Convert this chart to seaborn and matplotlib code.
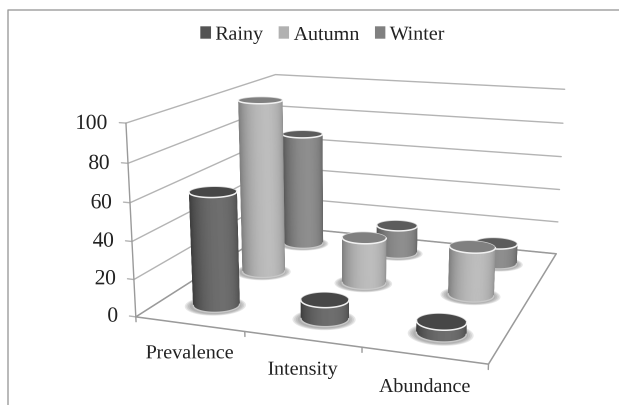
"""3D cylinder column chart of seasonal parasite indices, grey version."""

import matplotlib
matplotlib.use("Agg")
import matplotlib.pyplot as plt
from matplotlib.lines import Line2D
from matplotlib.patches import Patch
from mpl_toolkits.mplot3d import proj3d
from mpl_toolkits.mplot3d.art3d import Poly3DCollection
import numpy as np
import seaborn as sns

categories = ["Prevalence", "Intensity", "Abundance"]
seasons = ["Rainy", "Autumn", "Winter"]
rainy = [61, 10, 6]
autumn = [99, 26, 27]
winter = [69, 17, 12]
y_ticks = [0, 20, 40, 60, 80, 100]

W, H = 619, 405
FONT = "Liberation Serif"
GRID = "#b4b4b4"
EDGE = "#9a9a9a"
RX, RY = 0.2, 0.19

# (edge, middle, top cap) shades per season
SHADES = {
    "Rainy": ("#3f3f3f", "#6e6e6e", "#474747"),
    "Autumn": ("#808080", "#bdbdbd", "#808080"),
    "Winter": ("#565656", "#8e8e8e", "#5c5c5c"),
}
LEGEND_COLORS = {"Rainy": "#555555", "Autumn": "#b2b2b2", "Winter": "#808080"}

# camera fit: box corners in chart units -> where they sit in the image
CAM_WORLD = np.array([
    (0, 0, 0), (1, 0, 0), (2, 0, 0), (3, 0, 0), (3, 3, 0), (0, 3, 0),
    (0, 0, 100), (0, 3, 100), (3, 3, 100), (0, 0, 50), (3, 3, 50),
], dtype=float)
CAM_IMAGE = np.array([
    (136, 317), (245, 333), (362, 347), (488, 364), (556, 254), (278, 226),
    (126, 123), (275, 75), (565, 90), (131, 221), (560.5, 172),
], dtype=float)


def fit_camera(ax):
    """Solve the projection matrix that puts the box where the image has it."""
    ax.apply_aspect()
    view = ax.transData.inverted().transform(
        np.c_[CAM_IMAGE[:, 0], H - CAM_IMAGE[:, 1]]
    )
    rows, rhs = [], []
    for (x, y, z), (u, v) in zip(CAM_WORLD, view):
        rows.append([x, y, z, 1, 0, 0, 0, 0, -u * x, -u * y, -u * z])
        rows.append([0, 0, 0, 0, x, y, z, 1, -v * x, -v * y, -v * z])
        rhs += [u, v]
    p = np.linalg.lstsq(np.array(rows), np.array(rhs), rcond=None)[0]
    return np.array([p[:4], p[4:8], [0, 0, 0, -1], [p[8], p[9], p[10], 1]])


def label_at(ax, camera, x, y, z, text, **kwargs):
    """Plain 2D text at the spot a chart position projects to."""
    vx, vy, _ = proj3d.proj_transform(x, y, z, camera)
    ax.text2D(vx, vy, text, transform=ax.transData, va="center",
              color="#222222", zorder=50, **kwargs)


def draw_cylinder(ax, cx, cy, height, season, order, eye):
    # only the half that faces the camera gets a side wall
    front = np.arctan2((eye[1] - cy) / RY, (eye[0] - cx) / RX)
    phi = np.linspace(-np.pi / 2, np.pi / 2, 49)
    near = front + phi
    nx, ny = cx + RX * np.cos(near), cy + RY * np.sin(near)
    theta = np.linspace(0, 2 * np.pi, 73)
    xs, ys = cx + RX * np.cos(theta), cy + RY * np.sin(theta)

    # floor shadow, a few stacked soft ellipses
    for scale in [1.32, 1.25, 1.18, 1.1]:
        ring = list(zip(cx + scale * RX * np.cos(theta),
                        cy + scale * RY * np.sin(theta) - 0.02,
                        np.zeros_like(theta)))
        ax.add_collection3d(Poly3DCollection(
            [ring], facecolor=(0.35, 0.35, 0.35, 0.14), edgecolor="none",
            zorder=order - 0.5,
        ))

    edge, mid, top = SHADES[season]
    ramp = np.array(sns.blend_palette([edge, mid], 101))
    light = np.clip(np.cos(phi - 0.2), 0, 1) ** 1.2
    colors = ramp[(light * 100).astype(int)]
    facecolors = np.tile(np.c_[colors, np.ones(len(phi))], (2, 1, 1))
    ax.plot_surface(
        np.tile(nx, (2, 1)), np.tile(ny, (2, 1)),
        np.array([np.zeros_like(phi), np.full_like(phi, height)]),
        rstride=1, cstride=1, facecolors=facecolors, shade=False,
        linewidth=0.3, zorder=order,
    )
    cap = list(zip(xs, ys, np.full_like(theta, height)))
    ax.add_collection3d(Poly3DCollection(
        [cap], facecolor=top, edgecolor="none", zorder=order + 0.1,
    ))

    # bright rims on the near half
    ax.plot(xs, ys, np.full_like(theta, height), color="#d0d0d0", lw=0.5,
            zorder=order + 0.15)
    ax.plot(nx, ny, np.full_like(phi, height), color="#f2f2f2", lw=1.1,
            zorder=order + 0.2)
    ax.plot(nx, ny, np.zeros_like(phi), color="#c8c8c8", lw=1.0,
            zorder=order + 0.2)


sns.set_theme(style="white")
plt.rcParams["font.family"] = [FONT, "DejaVu Serif"]

fig = plt.figure(figsize=(W / 100, H / 100), dpi=100, facecolor="white")
# a 3D axes is always square, so let it overhang the figure vertically
over = W / H
ax = fig.add_axes([0, (1 - over) / 2, 1, over], projection="3d",
                  computed_zorder=False)
ax.set_axis_off()
ax.set_xticks([])
ax.set_yticks([])
ax.set_zticks([])
ax.patch.set_alpha(0)
camera = fit_camera(ax)
ax.get_proj = lambda: camera
eye = np.linalg.solve(camera[[0, 1, 3]][:, :3], -camera[[0, 1, 3]][:, 3])

# walls
for tick in y_ticks:
    ax.plot([0, 0, 3], [0, 3, 3], [tick] * 3, color=GRID, lw=1.0, zorder=1)
    ax.plot([-0.06, 0], [0, 0], [tick, tick], color=GRID, lw=1.0, zorder=1)
    label_at(ax, camera, -0.17, 0, tick - 0.9, str(tick), ha="right",
             fontsize=15.5)
ax.plot([0, 0], [0, 0], [0, 100], color=EDGE, lw=1.0, zorder=1)

# floor
ax.plot([0, 3, 3, 0, 0], [0, 0, 3, 3, 0], [0] * 5, color=EDGE, lw=1.1, zorder=2)
for pos in range(4):
    ax.plot([pos, pos], [0, 0], [0, -2.6], color=EDGE, lw=1.0, zorder=2)

# back row first so the near columns cover it
order = 10
for season, values, row in [("Winter", winter, 2.5), ("Autumn", autumn, 1.5),
                            ("Rainy", rainy, 0.5)]:
    for pos, value in enumerate(values):
        draw_cylinder(ax, pos + 0.5, row, value, season, order, eye)
        order += 1

for pos, label in enumerate(categories):
    label_at(ax, camera, pos * 0.985 + 0.59, -0.18, -11, label, ha="center",
             fontsize=14.5)

fig.legend(
    handles=[Patch(color=LEGEND_COLORS[s], label=s) for s in seasons],
    ncol=3, loc="center", bbox_to_anchor=(323 / W, 1 - 35 / H), frameon=False,
    fontsize=14.5, handlelength=0.45, handleheight=0.45, handletextpad=0.25,
    columnspacing=0.8, labelcolor="#222222",
)

# chart frame, cut by the crop on the right and bottom
fig.add_artist(Line2D([8 / W, 8 / W, 1], [0, 1 - 10 / H, 1 - 10 / H],
                      color="#9c9c9c", lw=1.0))

# the many thin facets alias at the column edges, so render big and average down
SS = 3
fig.savefig("out.png", dpi=100 * SS)
plt.close(fig)
big = plt.imread("out.png")[:, :, :3]
rows_out, cols_out = big.shape[0] // SS, big.shape[1] // SS
small = big[:rows_out * SS, :cols_out * SS].reshape(
    rows_out, SS, cols_out, SS, 3).mean(axis=(1, 3))
plt.imsave("out.png", small)
